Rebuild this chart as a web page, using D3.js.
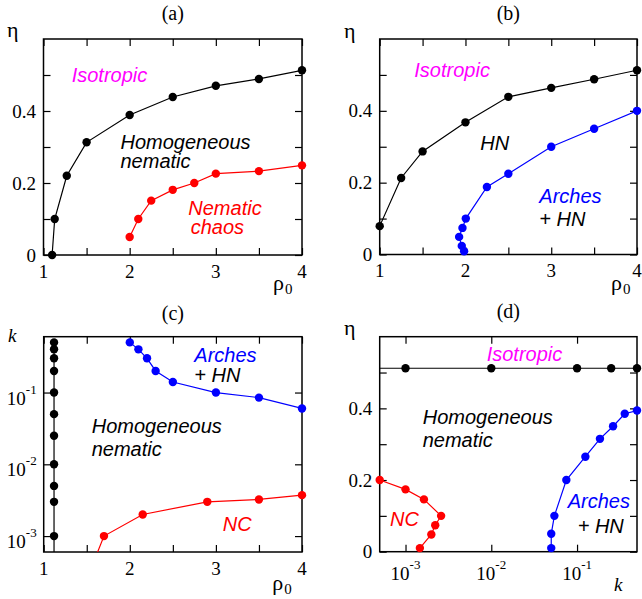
<!DOCTYPE html>
<html><head><meta charset="utf-8">
<script src="https://cdn.jsdelivr.net/npm/d3@7"></script>
<style>body{margin:0;background:#fff}svg{display:block}</style>
</head><body><svg id="chart" width="642" height="599"></svg>
<script>
// ---------- DATA ----------
// Panel (a): eta vs rho0
const aRhoIso = [1.1, 1.13, 1.27, 1.5, 2, 2.5, 3, 3.5, 4];
const aEtaIso = [0, 0.1, 0.22, 0.313, 0.389, 0.439, 0.47, 0.489, 0.513];
const aRhoNC  = [2, 2.1, 2.25, 2.5, 2.75, 3, 3.5, 4];
const aEtaNC  = [0.05, 0.1, 0.151, 0.181, 0.2, 0.226, 0.233, 0.249];
// Panel (b)
const bRhoIso = [1, 1.25, 1.5, 2, 2.5, 3, 3.5, 4];
const bEtaIso = [0.079, 0.213, 0.287, 0.368, 0.439, 0.464, 0.488, 0.513];
const bRhoArch = [1.984, 1.957, 1.926, 1.965, 2.004, 2.25, 2.5, 3, 3.5, 4];
const bEtaArch = [0.009, 0.024, 0.049, 0.074, 0.1, 0.188, 0.225, 0.30, 0.35, 0.40];
// Panel (c): k vs rho0
const cRhoIso = [1.12, 1.12, 1.12, 1.12, 1.12, 1.12, 1.12, 1.12, 1.12, 1.12, 1.12, 1.12];
const cKIso   = [1e-4, 0.001, 0.003, 0.005, 0.01, 0.025, 0.05, 0.1, 0.2, 0.3, 0.4, 0.5];
const cRhoArch = [2, 2.1, 2.2, 2.3, 2.5, 3, 3.5, 4];
const cKArch   = [0.5, 0.4, 0.3, 0.2, 0.14, 0.1, 0.085, 0.06];
const cRhoNC = [1.6, 1.7, 2.15, 2.9, 3.5, 4];
const cKNC   = [5e-4, 0.001, 0.002, 0.003, 0.00324, 0.00372];
// Panel (d): eta vs k
const dKIso   = [1e-4, 0.001, 0.01, 0.1, 0.25, 0.5];
const dEtaIso = [0.512, 0.512, 0.512, 0.512, 0.512, 0.512];
const dKArch   = [0.05, 0.05, 0.0544, 0.075, 0.125, 0.185, 0.263, 0.36, 0.5];
const dEtaArch = [0.01, 0.05, 0.1, 0.2, 0.265, 0.315, 0.35, 0.385, 0.394];
const dKNC   = [5e-4, 0.001, 0.00164, 0.0026, 0.00222, 0.002, 0.00147];
const dEtaNC = [0.2, 0.174, 0.146, 0.1, 0.074, 0.048, 0.01];
// Ticks
const etaTicks = [0, 0.1, 0.2, 0.3, 0.4, 0.5];
const etaLabels = [0, 0.2, 0.4];
const rhoTicks = [1, 1.5, 2, 2.5, 3, 3.5, 4];
const rhoLabels = [1, 2, 3, 4];
const kTicks = [0.001, 0.01, 0.1];
const panelTitles = ["(a)", "(b)", "(c)", "(d)"];

// ---------- DRAWING ----------
const svg = d3.select("#chart");
const SERIF = "'Liberation Serif','Times New Roman',Times,serif";
const SANS = "'Liberation Sans',Arial,Helvetica,sans-serif";
const RED = "#ff0000", BLUE = "#0000ff", MAG = "#ff00ff", BLK = "#000000";

function makePanel(cfg, idx) {
  const g = svg.append("g");
  const x = (cfg.xlog ? d3.scaleLog() : d3.scaleLinear()).domain(cfg.xdom).range([cfg.l, cfg.r]);
  const y = (cfg.ylog ? d3.scaleLog() : d3.scaleLinear()).domain(cfg.ydom).range([cfg.b, cfg.t]);
  const clipId = "clip" + idx;
  svg.append("clipPath").attr("id", clipId).append("rect")
    .attr("x", cfg.l).attr("y", cfg.t).attr("width", cfg.r - cfg.l).attr("height", cfg.b - cfg.t);

  const T = 7;
  const axes = [
    [d3.axisBottom(x).tickValues(cfg.xticks), `translate(0,${cfg.b})`],
    [d3.axisTop(x).tickValues(cfg.xticks), `translate(0,${cfg.t})`],
    [d3.axisLeft(y).tickValues(cfg.yticks), `translate(${cfg.l},0)`],
    [d3.axisRight(y).tickValues(cfg.yticks), `translate(${cfg.r},0)`]
  ];
  axes.forEach(([ax, tr]) => {
    const a = g.append("g").attr("transform", tr).call(ax.tickSize(-T).tickFormat(""));
    a.select(".domain").remove();
    a.selectAll(".tick line").attr("stroke", "#000").attr("stroke-width", 1.2);
    a.selectAll("text").remove();
  });
  g.append("rect").attr("x", cfg.l).attr("y", cfg.t)
    .attr("width", cfg.r - cfg.l).attr("height", cfg.b - cfg.t)
    .attr("fill", "none").attr("stroke", "#000").attr("stroke-width", 1.5);

  // x tick labels
  cfg.xlabels.forEach(v => {
    if (cfg.xlog) {
      const e = Math.round(Math.log10(v));
      const t = g.append("text").attr("x", x(v)).attr("y", cfg.b + 28.5)
        .attr("text-anchor", "middle").attr("font-family", SERIF).attr("font-size", 19);
      t.append("tspan").text("10");
      t.append("tspan").attr("dy", -11).attr("font-size", 13).text("-" + Math.abs(e));
    } else {
      g.append("text").attr("x", x(v)).attr("y", cfg.b + 22.7)
        .attr("text-anchor", "middle").attr("font-family", SERIF).attr("font-size", 19)
        .text(d3.format("")(v));
    }
  });
  // y tick labels
  cfg.ylabels.forEach(v => {
    if (cfg.ylog) {
      const e = Math.round(Math.log10(v));
      const t = g.append("text").attr("x", cfg.l - 7).attr("y", y(v) + 12)
        .attr("text-anchor", "end").attr("font-family", SERIF).attr("font-size", 19);
      t.append("tspan").text("10");
      t.append("tspan").attr("dy", -11).attr("font-size", 13).text("-" + Math.abs(e));
    } else {
      g.append("text").attr("x", cfg.l - 7.5).attr("y", y(v) + 6.5)
        .attr("text-anchor", "end").attr("font-family", SERIF).attr("font-size", 19)
        .text(v === 0 ? "0" : d3.format(".1f")(v));
    }
  });
  // title
  g.append("text").attr("x", (cfg.l + cfg.r) / 2).attr("y", cfg.titleY)
    .attr("text-anchor", "middle").attr("font-family", SERIF).attr("font-size", 20)
    .text(panelTitles[idx]);

  const plot = g.append("g");
  const lines = plot.append("g").attr("clip-path", `url(#${clipId})`);
  const marks = plot.append("g");
  return { g, x, y, lines, marks, cfg };
}

function series(P, xs, ys, color) {
  const data = xs.map((v, i) => [v, ys[i]]);
  P.lines.append("path").datum(data)
    .attr("d", d3.line().x(d => P.x(d[0])).y(d => P.y(d[1])))
    .attr("fill", "none").attr("stroke", color).attr("stroke-width", 1.2);
  const [x0, x1] = P.x.domain(), [y0, y1] = P.y.domain();
  const inside = data.filter(d => d[0] >= x0 * 0.999 && d[0] <= x1 * 1.001 && d[1] >= y0 - 1e-9 && d[1] <= y1);
  P.marks.selectAll(null).data(inside).enter().append("circle")
    .attr("cx", d => P.x(d[0])).attr("cy", d => P.y(d[1])).attr("r", 4.2)
    .attr("fill", color);
}

function label(P, txt, x, y, color) {
  P.g.append("text").attr("x", x).attr("y", y).attr("font-family", SANS)
    .attr("font-style", "italic").attr("font-size", 20).attr("fill", color).text(txt);
}
function axisName(P, txt, x, y, opts = {}) {
  const t = P.g.append("text").attr("x", x).attr("y", y).attr("font-family", SERIF)
    .attr("font-size", opts.size || 22).attr("font-style", opts.italic ? "italic" : "normal");
  t.append("tspan").text(txt);
  if (opts.sub) t.append("tspan").attr("dy", 4).attr("dx", 1).attr("font-size", 15).text(opts.sub);
}

// Panel (a)
const A = makePanel({l: 43.5, r: 302, t: 39, b: 255, xdom: [1, 4], ydom: [0, 0.6],
  xticks: rhoTicks, yticks: etaTicks, xlabels: rhoLabels, ylabels: etaLabels, titleY: 20}, 0);
series(A, aRhoIso, aEtaIso, BLK);
series(A, aRhoNC, aEtaNC, RED);
label(A, "Isotropic", 71.7, 81.7, MAG);
label(A, "Homogeneous", 120.5, 149.3, BLK);
label(A, "nematic", 120.5, 167.7, BLK);
label(A, "Nematic", 188.3, 215, RED);
label(A, "chaos", 190.7, 234, RED);
axisName(A, "η", 7, 37);
axisName(A, "ρ", 273, 290, {sub: "0"});

// Panel (b)
const B = makePanel({l: 379.7, r: 637, t: 39, b: 254.5, xdom: [1, 4], ydom: [0, 0.6],
  xticks: rhoTicks, yticks: etaTicks, xlabels: rhoLabels, ylabels: etaLabels, titleY: 20}, 1);
series(B, bRhoIso, bEtaIso, BLK);
series(B, bRhoArch, bEtaArch, BLUE);
label(B, "Isotropic", 414.3, 77.3, MAG);
label(B, "HN", 480.3, 149.5, BLK);
label(B, "Arches", 539.3, 203.3, BLUE);
label(B, "+ HN", 539.3, 225.7, BLK);
axisName(B, "η", 344, 38);
axisName(B, "ρ", 611, 290, {sub: "0"});

// Panel (c)
const C = makePanel({l: 43.7, r: 302, t: 336.7, b: 552, xdom: [1, 4], ydom: [6e-4, 0.6], ylog: true,
  xticks: rhoTicks, yticks: kTicks, xlabels: rhoLabels, ylabels: kTicks, titleY: 320}, 2);
series(C, cRhoIso, cKIso, BLK);
series(C, cRhoArch, cKArch, BLUE);
series(C, cRhoNC, cKNC, RED);
label(C, "Arches", 194.3, 361.7, BLUE);
label(C, "+ HN", 194.3, 381.5, BLK);
label(C, "Homogeneous", 91.7, 433.3, BLK);
label(C, "nematic", 91.7, 455.7, BLK);
label(C, "NC", 222.7, 530.5, RED);
axisName(C, "k", 8, 341.7, {italic: true, size: 19});
axisName(C, "ρ", 272.3, 590, {sub: "0"});

// Panel (d)
const D = makePanel({l: 379.7, r: 637, t: 336.7, b: 551.7, xdom: [5e-4, 0.5], ydom: [0, 0.6], xlog: true,
  xticks: kTicks, yticks: etaTicks, xlabels: kTicks, ylabels: etaLabels, titleY: 318}, 3);
series(D, dKIso, dEtaIso, BLK);
series(D, dKArch, dEtaArch, BLUE);
series(D, dKNC, dEtaNC, RED);
label(D, "Isotropic", 486.7, 361, MAG);
label(D, "Homogeneous", 422.7, 424, BLK);
label(D, "nematic", 422.7, 446.7, BLK);
label(D, "NC", 390, 525.7, RED);
label(D, "Arches", 567.7, 508.3, BLUE);
label(D, "+ HN", 577.7, 533.3, BLK);
axisName(D, "η", 344, 335);
axisName(D, "k", 614, 591, {italic: true, size: 19});
</script>
</body></html>
